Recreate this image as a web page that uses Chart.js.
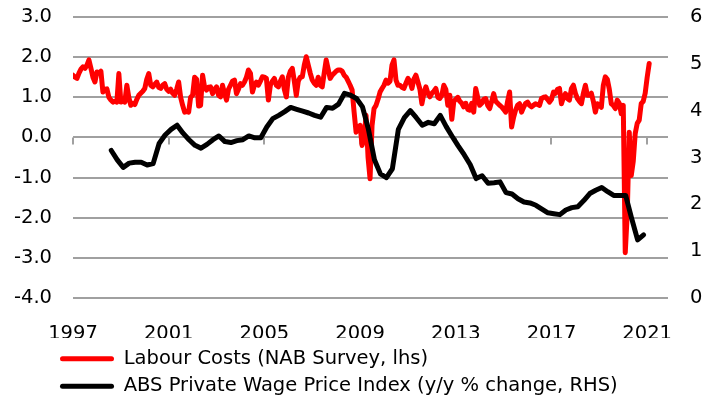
<!DOCTYPE html>
<html>
<head>
<meta charset="utf-8">
<script src="https://cdn.jsdelivr.net/npm/chart.js@4.4.0/dist/chart.umd.min.js"></script>
<style>
html,body{margin:0;padding:0;background:#fff;}
#wrap{width:718px;height:403px;position:relative;}
</style>
</head>
<body>
<div id="wrap"><canvas id="c" width="718" height="403"></canvas></div>
<script>
// ---- DATA ----
const seriesNames = ['Labour Costs (NAB Survey, lhs)', 'ABS Private Wage Price Index (y/y % change, RHS)'];
// NAB labour costs, monthly from Jan 1997 (lhs)
const labourStart = 1997;
const labour1997 = [1.55,1.50,1.47,1.60,1.70,1.76,1.72,1.80,1.93,1.72,1.50,1.38];
const labour1998 = [1.63,1.60,1.65,1.13,1.20,1.21,1.00,0.93,0.88,0.90,0.88,1.59];
const labour1999 = [0.88,0.90,0.88,1.30,1.00,0.80,0.85,0.82,0.95,1.05,1.10,1.15];
const labour2000 = [1.22,1.45,1.59,1.30,1.26,1.32,1.38,1.25,1.22,1.30,1.34,1.20];
const labour2001 = [1.15,1.20,1.10,1.05,1.20,1.38,1.00,0.80,0.63,0.65,0.63,1.00];
const labour2002 = [1.05,1.50,1.45,0.78,0.80,1.55,1.25,1.18,1.25,1.26,1.09,1.20];
const labour2003 = [1.26,1.05,1.01,1.30,1.10,0.93,1.20,1.30,1.40,1.43,1.09,1.20];
const labour2004 = [1.34,1.30,1.38,1.50,1.68,1.60,1.13,1.30,1.38,1.30,1.40,1.51];
const labour2005 = [1.50,1.47,0.93,1.30,1.40,1.47,1.30,1.26,1.40,1.51,1.20,1.01];
const labour2006 = [1.50,1.65,1.72,1.40,1.05,1.40,1.50,1.51,1.80,2.01,1.80,1.60];
const labour2007 = [1.43,1.35,1.30,1.50,1.30,1.26,1.60,1.93,1.70,1.47,1.55,1.60];
const labour2008 = [1.65,1.68,1.68,1.65,1.55,1.50,1.40,1.30,1.18,0.63,0.13,0.26];
const labour2009 = [0.30,-0.20,0.00,0.55,-0.50,-1.03,0.30,0.72,0.80,0.95,1.13,1.22];
const labour2010 = [1.30,1.43,1.35,1.40,1.80,1.93,1.43,1.30,1.30,1.25,1.22,1.35];
const labour2011 = [1.47,1.40,1.22,1.45,1.55,1.38,1.20,0.84,1.10,1.26,1.10,1.01];
const labour2012 = [1.10,1.15,1.22,1.00,0.97,1.05,1.30,1.20,0.80,1.05,0.45,0.90];
const labour2013 = [0.95,1.00,0.90,0.85,0.76,0.85,0.70,0.68,0.85,0.63,1.22,1.00];
const labour2014 = [0.80,0.85,0.95,0.97,0.80,0.72,0.90,1.09,0.90,0.85,0.80,0.76];
const labour2015 = [0.70,0.63,0.90,1.13,0.26,0.50,0.68,0.80,0.84,0.63,0.75,0.85];
const labour2016 = [0.88,0.80,0.76,0.80,0.84,0.82,0.80,0.97,1.00,1.01,0.95,0.88];
const labour2017 = [0.95,1.13,1.10,1.20,1.22,0.84,1.00,1.09,0.97,0.93,1.22,1.30];
const labour2018 = [1.10,0.97,0.90,0.84,1.10,1.30,1.05,1.05,1.10,0.90,0.63,0.84];
const labour2019 = [0.80,0.75,1.30,1.51,1.45,1.20,0.84,0.80,0.72,0.93,0.85,0.59];
const labour2020 = [0.80,-2.87,-1.90,0.13,-0.95,-0.60,0.10,0.35,0.43,0.84,0.90,1.10];
const labour2021 = [1.50,1.84];

// ABS private WPI y/y, quarterly from 1998.6 (rhs)
const wpiStart = 1998.6;
const wpiPrivate = [
  3.15,2.95,2.79,2.88,2.90,2.90,2.84,2.87,3.30,3.48,
  3.60,3.69,3.52,3.38,3.26,3.20,3.28,3.38,3.46,3.34,
  3.32,3.36,3.38,3.46,3.42,3.42,3.65,3.83,3.90,3.98,
  4.07,4.03,3.99,3.95,3.90,3.86,4.07,4.05,4.14,4.37,
  4.33,4.26,4.08,3.60,2.95,2.65,2.57,2.76,3.60,3.85,
  4.00,3.85,3.69,3.75,3.72,3.90,3.66,3.45,3.25,3.06,
  2.85,2.55,2.61,2.45,2.46,2.48,2.25,2.22,2.12,2.05,
  2.03,1.98,1.90,1.82,1.80,1.78,1.88,1.93,1.95,2.08,
  2.23,2.30,2.36,2.27,2.19,2.19,2.19,1.70,1.24,1.35
];

const yearTicks = [1997,2001,2005,2009,2013,2017,2021];
const leftTicks = [3,2,1,0,-1,-2,-3,-4];
const rightTicks = [6,5,4,3,2,1,0];
const xMin = 1997, xMax = 2021.87;

// ---- build points ----
const labourAll = [].concat(labour1997,labour1998,labour1999,labour2000,labour2001,labour2002,labour2003,
  labour2004,labour2005,labour2006,labour2007,labour2008,labour2009,labour2010,labour2011,labour2012,
  labour2013,labour2014,labour2015,labour2016,labour2017,labour2018,labour2019,labour2020,labour2021);
const labourPts = labourAll.map((v,i)=>({x: labourStart + i/12, y: v}));
const wpiPts = wpiPrivate.map((v,i)=>({x: wpiStart + i*0.25, y: v}));

const FONT = 'DejaVu Sans';
const FS = 19.5;
const GRID = '#a0a0a0';
const CLEAR = 'rgba(0,0,0,0)';
Chart.defaults.color = '#000';
Chart.defaults.font.family = FONT;

const legendShift = {
  id: 'legendShift',
  afterLayout(chart){
    const l = chart.legend; if(!l) return;
    l.left = 52; l.right = 718;
    const h = l.height; l.top = 341; l.bottom = l.top + h;
  }
};

// short tick marks hanging below the zero line (category axis crosses at 0)
const zeroAxisTicks = {
  id: 'zeroAxisTicks',
  beforeDatasetsDraw(chart){
    const xs = chart.scales.x, ys = chart.scales.y, ctx = chart.ctx;
    const y0 = ys.getPixelForValue(0);
    ctx.save();
    ctx.strokeStyle = GRID; ctx.lineWidth = 2;
    ctx.beginPath();
    yearTicks.forEach(v => { const px = Math.round(xs.getPixelForValue(v)); ctx.moveTo(px, y0); ctx.lineTo(px, y0 + 7); });
    ctx.stroke();
    ctx.restore();
  }
};

const fixTicks = (arr) => (scale) => { scale.ticks = arr.map(v=>({value:v})); };

new Chart(document.getElementById('c'), {
  type: 'line',
  data: {
    datasets: [
      { label: seriesNames[0], data: labourPts, xAxisID: 'x', yAxisID: 'y',
        borderColor: '#ff0000', backgroundColor: '#ff0000', borderWidth: 5,
        pointRadius: 0, tension: 0, borderJoinStyle: 'round', borderCapStyle: 'round', order: 1 },
      { label: seriesNames[1], data: wpiPts, xAxisID: 'x', yAxisID: 'y1',
        borderColor: '#000000', backgroundColor: '#000000', borderWidth: 5,
        pointRadius: 0, tension: 0, borderJoinStyle: 'round', borderCapStyle: 'round', order: 0 }
    ]
  },
  options: {
    responsive: false, animation: false, devicePixelRatio: 1,
    layout: { autoPadding: false, padding: { top: 17, left: 0, right: 0, bottom: 0 } },
    plugins: {
      tooltip: { enabled: false },
      legend: {
        position: 'bottom', align: 'start',
        labels: {
          font: { family: FONT, size: FS }, color: '#000',
          boxWidth: 54, boxHeight: 5, padding: 8,
          sort: (a,b) => a.datasetIndex - b.datasetIndex,
          generateLabels: (chart) => {
            const items = Chart.defaults.plugins.legend.labels.generateLabels(chart);
            items.forEach(it => { it.fillStyle = it.strokeStyle; it.lineWidth = 0; it.borderRadius = 2.5; });
            return items;
          }
        }
      }
    },
    scales: {
      x: {
        type: 'linear', position: 'bottom', min: xMin, max: xMax,
        afterBuildTicks: fixTicks(yearTicks),
        afterFit: (s) => { s.height = 40; },
        grid: { display: true, drawOnChartArea: false, drawTicks: true, tickLength: 24, tickColor: CLEAR },
        border: { display: false },
        ticks: { font: { family: FONT, size: FS }, color: '#000', padding: 0, maxRotation: 0,
                 callback: (v) => String(v) }
      },
      y: {
        type: 'linear', position: 'left', min: -4, max: 3,
        afterBuildTicks: fixTicks(leftTicks),
        afterFit: (s) => { s.width = 73; },
        grid: { color: GRID, lineWidth: 2, drawTicks: true, tickLength: 21, tickColor: CLEAR },
        border: { display: false },
        ticks: { font: { family: FONT, size: FS }, color: '#000', padding: 0,
                 callback: (v) => v.toFixed(1) }
      },
      y1: {
        type: 'linear', position: 'right', min: 0, max: 6,
        afterBuildTicks: fixTicks(rightTicks),
        afterFit: (s) => { s.width = 50; },
        grid: { display: true, drawOnChartArea: false, drawTicks: true, tickLength: 22, tickColor: CLEAR },
        border: { display: false },
        ticks: { font: { family: FONT, size: FS }, color: '#000', padding: 0,
                 callback: (v) => String(v) }
      }
    }
  },
  plugins: [legendShift, zeroAxisTicks]
});
</script>
</body>
</html>
